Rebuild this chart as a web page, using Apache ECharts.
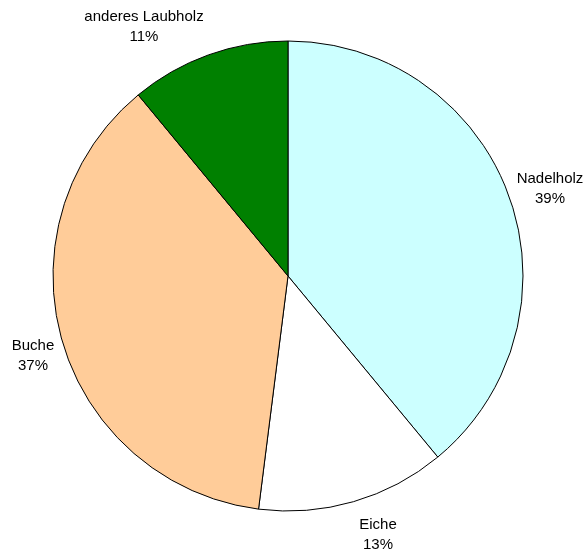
<!DOCTYPE html>
<html>
<head>
<meta charset="utf-8">
<script src="https://cdn.jsdelivr.net/npm/echarts@6/dist/echarts.min.js"></script>
<style>
html,body{margin:0;padding:0;background:#fff;}
#chart{width:586px;height:553px;}
</style>
</head>
<body>
<div id="chart"></div>
<script>
var categories = ['Nadelholz', 'Eiche', 'Buche', 'anderes Laubholz'];
var values = [39, 13, 37, 11];
var colors = ['#CCFFFF', '#FFFFFF', '#FFCC99', '#008000'];
var labelPos = [[550, 189], [378, 535], [33, 356], [144, 27]];

var chart = echarts.init(document.getElementById('chart'), null, {renderer: 'canvas'});
chart.setOption({
  backgroundColor: '#ffffff',
  animation: false,
  series: [{
    type: 'pie',
    center: [288, 276],
    radius: 235,
    startAngle: 90,
    clockwise: true,
    avoidLabelOverlap: false,
    silent: true,
    data: categories.map(function (c, i) {
      return {name: c, value: values[i], itemStyle: {color: colors[i]}};
    }),
    itemStyle: {borderColor: '#000000', borderWidth: 1},
    label: {
      show: true,
      position: 'outside',
      formatter: '{b}\n{d}%',
      fontFamily: 'Liberation Sans, Arial, sans-serif',
      fontSize: 15,
      lineHeight: 20,
      color: '#000000',
      align: 'center'
    },
    labelLine: {show: false},
    labelLayout: function (params) {
      var p = labelPos[params.dataIndex];
      return {x: p[0], y: p[1], align: 'center', verticalAlign: 'middle'};
    }
  }]
});
</script>
</body>
</html>
